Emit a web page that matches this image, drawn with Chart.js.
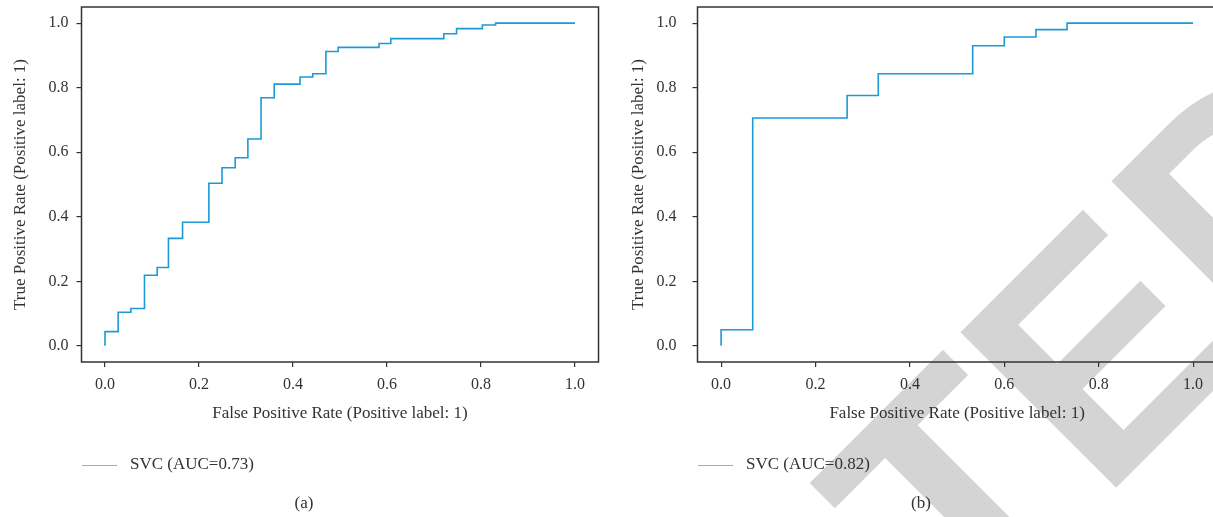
<!DOCTYPE html>
<html>
<head>
<meta charset="utf-8">
<script src="https://cdn.jsdelivr.net/npm/chart.js@4.4.0/dist/chart.umd.min.js"></script>
<style>
  html, body { margin: 0; padding: 0; background: #fff; }
  body { width: 1213px; height: 517px; overflow: hidden; position: relative; font-family: "Liberation Serif", serif; color: #333; }
  #wm { position: absolute; left: 0; top: 0; }
  .box { position: absolute; top: 0; height: 425px; }
  #boxA { left: 0; width: 606px; }
  #boxB { left: 610px; width: 612px; }
  .legend { position: absolute; top: 453px; font-size: 17px; line-height: 22px; white-space: nowrap; }
  .legend .swatch { display: inline-block; width: 35px; border-top: 1px solid #aaa; vertical-align: middle; margin-right: 13px; }
  .caption { position: absolute; top: 492px; font-size: 17px; line-height: 22px; transform: translateX(-50%); }
</style>
</head>
<body>
<canvas id="wm" width="1213" height="517"></canvas>
<div class="box" id="boxA"><canvas id="rocA"></canvas></div>
<div class="box" id="boxB"><canvas id="rocB"></canvas></div>
<div class="legend" style="left:82px"><span class="swatch"></span>SVC (AUC=0.73)</div>
<div class="legend" style="left:698px"><span class="swatch"></span>SVC (AUC=0.82)</div>
<div class="caption" style="left:304px">(a)</div>
<div class="caption" style="left:921px">(b)</div>
<script>
'use strict'

// ROC curve (a)
let fprA = [0, 0, 0.028, 0.055, 0.084, 0.111, 0.135, 0.165, 0.221, 0.249, 0.277, 0.304, 0.332, 0.360, 0.415, 0.442, 0.470, 0.496, 0.583, 0.608, 0.721, 0.748, 0.803, 0.831, 1.0];
let tprA = [0, 0.044, 0.104, 0.116, 0.219, 0.243, 0.333, 0.383, 0.504, 0.552, 0.583, 0.641, 0.769, 0.811, 0.833, 0.843, 0.912, 0.925, 0.937, 0.952, 0.967, 0.983, 0.994, 1.0, 1.0];

// ROC curve (b)
let fprB = [0, 0, 0.067, 0.267, 0.333, 0.533, 0.600, 0.667, 0.733, 1.0];
let tprB = [0, 0.05, 0.706, 0.776, 0.843, 0.930, 0.957, 0.980, 1.0, 1.0];

let tickValues = [0, 0.2, 0.4, 0.6, 0.8, 1.0];
let xTitle = 'False Positive Rate (Positive label: 1)';
let yTitle = 'True Positive Rate (Positive label: 1)';

// watermark behind the charts
function drawWatermark() {
  let c = document.getElementById('wm').getContext('2d');
  c.save();
  c.fillStyle = '#d4d4d4';
  c.font = 'bold 320px "Liberation Sans"';
  c.translate(20, 1584);
  c.rotate(-Math.PI / 4);
  c.fillText('RETRACTED', 0, 0);
  c.restore();
}
drawWatermark();

// draws the box round the plot area
const frame = {
  id: 'frame',
  afterDraw(chart) {
    let a = chart.chartArea;
    let c = chart.ctx;
    c.save();
    c.strokeStyle = '#333';
    c.lineWidth = 1.5;
    c.strokeRect(a.left, a.top, a.right - a.left, a.bottom - a.top);
    c.restore();
  }
};

function makeRoc(id, fpr, tpr, yWidth, yLabelPad, yTitlePad, rightPad) {
  let points = [];
  for (let i = 0; i < fpr.length; i++) {
    points.push({x: fpr[i], y: tpr[i]});
  }
  let tickFont = {family: 'Liberation Serif', size: 16};
  let titleFont = {family: 'Liberation Serif', size: 17};
  let setTicks = function (scale) {
    scale.ticks = tickValues.map(v => ({value: v}));
  };
  return new Chart(document.getElementById(id), {
    type: 'scatter',
    data: {
      datasets: [{
        data: points,
        showLine: true,
        stepped: 'before',
        borderColor: '#1b9ad6',
        borderWidth: 1.6,
        pointRadius: 0,
        fill: false
      }]
    },
    options: {
      responsive: true,
      maintainAspectRatio: false,
      animation: false,
      layout: {padding: {top: 7, right: rightPad, left: 0, bottom: 0}},
      plugins: {legend: {display: false}, tooltip: {enabled: false}},
      scales: {
        x: {
          type: 'linear',
          min: -0.05,
          max: 1.05,
          afterBuildTicks: setTicks,
          afterFit: function (scale) {
            scale.height = 63;
            scale.paddingLeft = 0;
            scale.paddingRight = 0;
          },
          border: {display: false},
          grid: {drawOnChartArea: false, drawTicks: true, tickLength: 5, tickColor: '#333', lineWidth: 1.2},
          ticks: {color: '#333', font: tickFont, padding: 8, maxRotation: 0, callback: v => v.toFixed(1)},
          title: {display: true, text: xTitle, color: '#333', font: titleFont, padding: {top: 0, bottom: 1}}
        },
        y: {
          type: 'linear',
          min: -0.05,
          max: 1.05,
          afterBuildTicks: setTicks,
          afterFit: function (scale) {
            scale.width = yWidth;
            scale.paddingTop = 0;
            scale.paddingBottom = 0;
          },
          border: {display: false},
          grid: {drawOnChartArea: false, drawTicks: true, tickLength: 5, tickColor: '#333', lineWidth: 1.2},
          ticks: {color: '#333', font: tickFont, padding: yLabelPad, callback: v => v.toFixed(1)},
          title: {display: true, text: yTitle, color: '#333', font: titleFont, padding: {top: yTitlePad, bottom: 0}}
        }
      }
    },
    plugins: [frame]
  });
}

makeRoc('rocA', fprA, tprA, 81.5, 8, 10, 7.5);
makeRoc('rocB', fprB, tprB, 87.5, 16, 18, 5.3);
</script>
</body>
</html>
